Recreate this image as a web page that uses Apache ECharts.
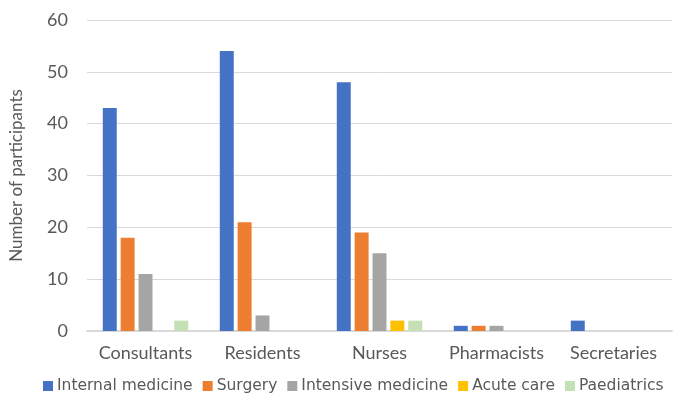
<!DOCTYPE html>
<html><head><meta charset="utf-8">
<script src="https://cdn.jsdelivr.net/npm/echarts@6/dist/echarts.min.js"></script>
<style>html,body{margin:0;padding:0;background:#fff}#c{width:677px;height:402px}</style>
</head><body><div id="c"></div>
<script>
const categories = ["Consultants", "Residents", "Nurses", "Pharmacists", "Secretaries"];
const internalMedicine = [43, 54, 48, 1, 2];
const surgery = [18, 21, 19, 1, 0];
const intensiveMedicine = [11, 3, 15, 1, 0];
const acuteCare = [0, 0, 2, 0, 0];
const paediatrics = [2, 0, 2, 0, 0];
const yTicks = [0, 10, 20, 30, 40, 50, 60];

const seriesDefs = [
  ["Internal medicine", internalMedicine, "#4472C4"],
  ["Surgery", surgery, "#ED7D31"],
  ["Intensive medicine", intensiveMedicine, "#A5A5A5"],
  ["Acute care", acuteCare, "#FFC000"],
  ["Paediatrics", paediatrics, "#C5E0B4"]
];
const font = "Lato, 'Open Sans', sans-serif";
const chart = echarts.init(document.getElementById('c'), null, {renderer: 'canvas'});
chart.setOption({
  animation: false,
  textStyle: {fontFamily: font, color: '#595959'},
  grid: {left: 83, right: 5, top: 20, bottom: 71, containLabel: false},
  legend: {
    top: 378, left: 43, width: 700, itemWidth: 10, itemHeight: 10, itemGap: 10,
    icon: 'rect', padding: 0,
    textStyle: {fontFamily: "'DejaVu Sans', sans-serif", fontSize: 15.5, color: '#595959', padding: [0, 0, 0, -1]},
    data: seriesDefs.map(s => s[0])
  },
  xAxis: {
    type: 'category', data: categories,
    axisLine: {lineStyle: {color: '#D9D9D9', width: 2}},
    axisTick: {show: false},
    axisLabel: {fontFamily: font, fontSize: 18, color: '#595959', margin: 13, interval: 0}
  },
  yAxis: {
    type: 'value', min: yTicks[0], max: yTicks[yTicks.length - 1], interval: 10,
    name: 'Number of participants', nameLocation: 'middle', nameGap: 62,
    nameTextStyle: {fontFamily: font, fontSize: 17, color: '#595959'},
    axisLine: {show: false}, axisTick: {show: false},
    axisLabel: {fontFamily: font, fontSize: 18, color: '#595959', margin: 19},
    splitLine: {lineStyle: {color: '#D9D9D9', width: 1}}
  },
  series: seriesDefs.map(([name, data, color]) => ({
    name, type: 'bar', data, barGap: '28%', barCategoryGap: '27%',
    itemStyle: {color}
  }))
});
</script></body></html>
